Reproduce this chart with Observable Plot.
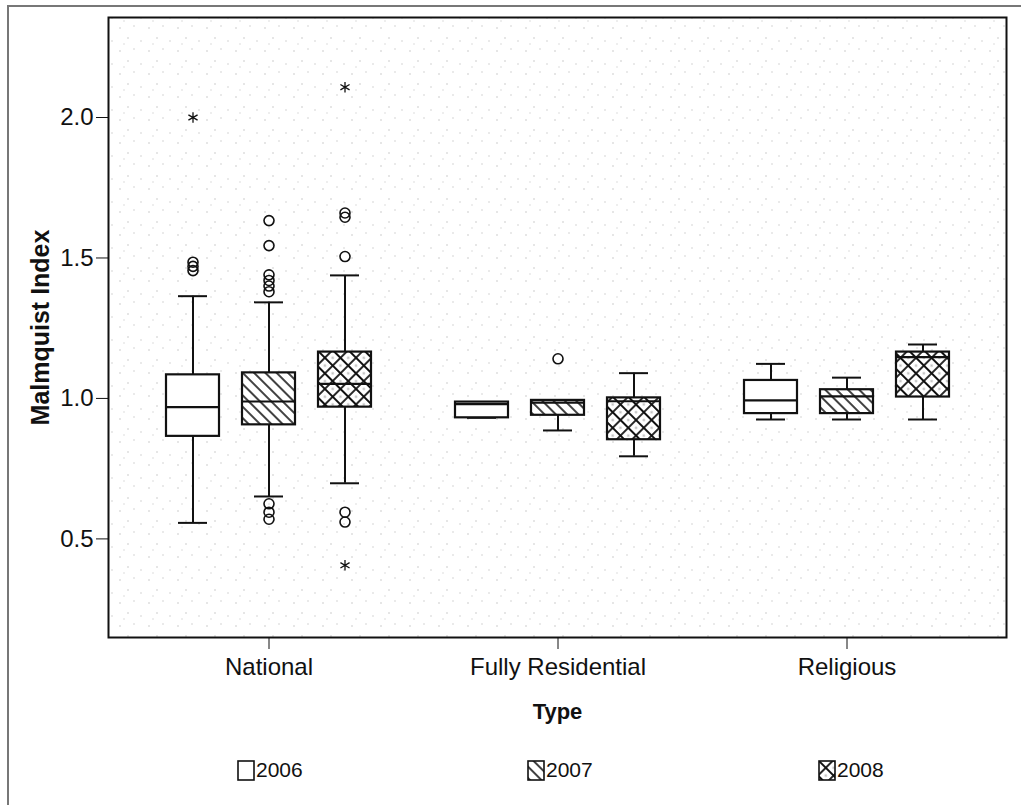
<!DOCTYPE html>
<html><head><meta charset="utf-8">
<script src="https://cdn.jsdelivr.net/npm/d3@7"></script>
<script src="https://cdn.jsdelivr.net/npm/@observablehq/plot@0.6"></script>
<style>
body{margin:0;background:#fff;font-family:"Liberation Sans",Arial,sans-serif;color:#111;}
#wrap{position:relative;width:1021px;height:805px;overflow:hidden;}
#border{position:absolute;left:7px;top:5px;width:1100px;height:900px;border-left:2px solid #777;border-top:2px solid #777;}
#chart{position:absolute;left:0;top:0;}
#legend{position:absolute;top:757px;left:0;width:1021px;height:30px;}
.item{position:absolute;top:0;display:flex;align-items:center;font-size:21px;line-height:26px;}
.item svg{margin-right:1px;}
</style></head>
<body>
<svg width="0" height="0" style="position:absolute">
  <defs>
    <pattern id="h2007" patternUnits="userSpaceOnUse" width="8" height="8" patternTransform="rotate(45)">
      <rect width="8" height="8" fill="white"/>
      <path d="M0,4H8" stroke="#111" stroke-width="1.6"/>
    </pattern>
    <pattern id="h2008" patternUnits="userSpaceOnUse" width="11" height="11" patternTransform="rotate(45)">
      <rect width="11" height="11" fill="white"/>
      <path d="M0,0H11M0,0V11M0,11H11M11,0V11" stroke="#111" stroke-width="1.8"/>
      <circle cx="5.5" cy="5.5" r="1.2" fill="#bbb"/>
    </pattern>
    <pattern id="stipple" patternUnits="userSpaceOnUse" width="29" height="23">
      <rect width="29" height="23" fill="white"/>
      <rect x="3" y="4" width="1" height="1" fill="#999"/>
      <rect x="17" y="2" width="1" height="1" fill="#aaa"/>
      <rect x="11" y="14" width="1" height="1" fill="#999"/>
      <rect x="24" y="17" width="1" height="1" fill="#aaa"/>
      <rect x="7" y="20" width="1" height="1" fill="#bbb"/>
    </pattern>
  </defs>
</svg>
<div id="wrap">
  <div id="border"></div>
  <div id="chart"></div>
  <div id="legend"></div>
</div>
<script>
// ---- data ----
const types = ["National", "Fully Residential", "Religious"];
const years = ["2006", "2007", "2008"];
// per type, per year (order: 2006, 2007, 2008)
const lowWhisker = {
  "National":          [0.557, 0.651, 0.698],
  "Fully Residential": [0.931, 0.886, 0.794],
  "Religious":         [0.925, 0.925, 0.925]
};
const q1 = {
  "National":          [0.865, 0.906, 0.969],
  "Fully Residential": [0.931, 0.940, 0.853],
  "Religious":         [0.946, 0.946, 1.005]
};
const median = {
  "National":          [0.969, 0.989, 1.052],
  "Fully Residential": [0.980, 0.985, 0.990],
  "Religious":         [0.993, 1.007, 1.147]
};
const q3 = {
  "National":          [1.084, 1.091, 1.165],
  "Fully Residential": [0.987, 0.993, 1.002],
  "Religious":         [1.064, 1.031, 1.165]
};
const highWhisker = {
  "National":          [1.364, 1.342, 1.438],
  "Fully Residential": [0.987, 0.993, 1.090],
  "Religious":         [1.123, 1.074, 1.192]
};
// outliers (circles): [type, year, value]
const outliers = [
  ["National", "2006", 1.455], ["National", "2006", 1.470], ["National", "2006", 1.485],
  ["National", "2007", 1.633], ["National", "2007", 1.544], ["National", "2007", 1.440],
  ["National", "2007", 1.420], ["National", "2007", 1.400], ["National", "2007", 1.380],
  ["National", "2007", 0.625], ["National", "2007", 0.595], ["National", "2007", 0.570],
  ["National", "2008", 1.660], ["National", "2008", 1.645], ["National", "2008", 1.505],
  ["National", "2008", 0.595], ["National", "2008", 0.560],
  ["Fully Residential", "2007", 1.141]
];
// extremes (asterisks): [type, year, value]
const extremes = [
  ["National", "2006", 2.000],
  ["National", "2008", 2.108],
  ["National", "2008", 0.406]
];
const yTicks = [0.5, 1.0, 1.5, 2.0];
const fills = {"2006": "white", "2007": "url(#h2007)", "2008": "url(#h2008)"};
const yearShift = {"2006": -76, "2007": 0, "2008": 76}; // side-by-side grouping offset (px)

// ---- build tables ----
const boxes = [];
for (const t of types) years.forEach((y, i) => boxes.push({
  type: t, year: y, lo: lowWhisker[t][i], q1: q1[t][i], med: median[t][i], q3: q3[t][i], hi: highWhisker[t][i]
}));
const outRows = outliers.map(([type, year, value]) => ({type, year, value}));
const extRows = extremes.map(([type, year, value]) => ({type, year, value}));

const ink = "#111";
const marks = [Plot.frame({fill: "url(#stipple)", stroke: "none"})];
for (const yr of years) {
  const b = boxes.filter(d => d.year === yr);
  const o = outRows.filter(d => d.year === yr);
  const e = extRows.filter(d => d.year === yr);
  const dx = yearShift[yr];
  marks.push(
    Plot.ruleX(b, {x: "type", y1: "lo", y2: "q1", dx, stroke: ink, strokeWidth: 2}),
    Plot.ruleX(b, {x: "type", y1: "q3", y2: "hi", dx, stroke: ink, strokeWidth: 2}),
    Plot.tickY(b, {x: "type", y: "lo", dx, insetLeft: 12, insetRight: 12, stroke: ink, strokeWidth: 2}),
    Plot.tickY(b, {x: "type", y: "hi", dx, insetLeft: 12, insetRight: 12, stroke: ink, strokeWidth: 2}),
    Plot.barY(b, {x: "type", y1: "q1", y2: "q3", dx, fill: fills[yr], stroke: ink, strokeWidth: 2.2}),
    Plot.tickY(b, {x: "type", y: "med", dx, stroke: ink, strokeWidth: 2.2}),
    Plot.dot(o, {x: "type", y: "value", dx, r: 5, stroke: ink, strokeWidth: 1.6, fill: "none"}),
    Plot.dot(e, {x: "type", y: "value", dx, r: 5, symbol: "asterisk", stroke: ink, strokeWidth: 1.3})
  );
}
marks.push(
  Plot.frame({stroke: ink, strokeWidth: 2}),
  Plot.axisY({ticks: yTicks, tickFormat: d3.format(".1f"), tickSize: 12, tickPadding: 3, fontSize: 24,
    label: "Malmquist Index", labelAnchor: "center", labelArrow: "none", labelOffset: 77}),
  Plot.axisX({tickSize: 12, tickPadding: 8, fontSize: 24,
    label: "Type", labelAnchor: "center", labelArrow: "none", labelOffset: 81})
);

const chart = Plot.plot({
  width: 1021,
  height: 745,
  marginLeft: 108,
  marginRight: 15,
  marginTop: 17,
  marginBottom: 108,
  style: {fontFamily: "Liberation Sans, Arial, sans-serif", color: ink, background: "transparent"},
  x: {domain: types, paddingInner: 0.817, paddingOuter: 0.457, label: "Type"},
  y: {domain: [0.149, 2.356], label: "Malmquist Index"},
  marks
});
document.getElementById("chart").appendChild(chart);
// bold axis titles
d3.select(chart).selectAll('g[aria-label="y-axis label"] text').attr("font-weight", "bold").attr("font-size", 25);
d3.select(chart).selectAll('g[aria-label="x-axis label"] text').attr("font-weight", "bold").attr("font-size", 22);

// ---- legend ----
const legendPos = {"2006": 237, "2007": 527, "2008": 818};
const legend = document.getElementById("legend");
for (const yr of years) {
  const item = document.createElement("div");
  item.className = "item";
  item.style.left = legendPos[yr] + "px";
  item.innerHTML = `<svg width="18" height="21"><rect x="1" y="1" width="16" height="19" fill="${fills[yr]}" stroke="#111" stroke-width="1.6"/></svg><span>${yr}</span>`;
  legend.appendChild(item);
}
</script>
</body></html>
